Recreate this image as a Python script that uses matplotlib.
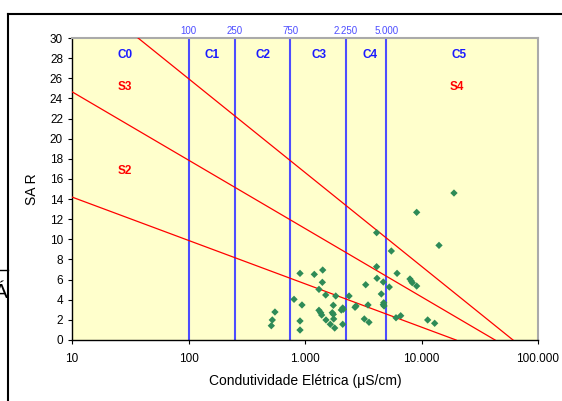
import numpy as np
import matplotlib.pyplot as plt
from matplotlib.lines import Line2D
from matplotlib.ticker import FixedLocator, NullLocator

plt.rcParams['font.family'] = ['Liberation Sans', 'DejaVu Sans']

# condutividade (uS/cm) e SAR das amostras
ce = [4120, 5510, 906, 1202, 1419, 1409, 1318, 1506, 1836, 2389,
      805, 942, 552, 524, 514, 906, 906, 1318, 1364, 1391,
      1514, 1649, 1798, 1750, 1715, 1750, 1762, 2049, 2108, 2134,
      2108, 2688, 2742, 3475, 3230, 3542, 3319, 4120, 4150, 4700,
      5290, 4520, 4740, 4700, 4770, 6170, 7960, 8170, 8330, 9090,
      6040, 6630, 19000, 9090, 14130, 11300, 12970]
sar = [10.66, 8.84, 6.62, 6.52, 6.95, 5.73, 5.03, 4.47, 4.37, 4.37,
       4.04, 3.48, 2.78, 1.99, 1.42, 1.89, 0.99, 2.95, 2.71, 2.48,
       1.99, 1.56, 1.19, 3.45, 2.71, 2.55, 2.09, 2.98, 3.18, 3.05,
       1.56, 3.25, 3.38, 3.48, 2.09, 1.76, 5.49, 7.28, 6.13, 5.76,
       5.26, 4.57, 3.70, 3.51, 3.38, 6.62, 6.06, 5.86, 5.69, 5.36,
       2.21, 2.41, 14.6, 12.68, 9.40, 1.99, 1.66]

# limites de condutividade (classes C)
c_limits = [100, 250, 750, 2250, 5000]
c_labels = ['100', '250', '750', '2.250', '5.000']
c_classes = ['C0', 'C1', 'C2', 'C3', 'C4', 'C5']
c_class_x = [28.5, 160, 440, 1330, 3600, 21000]

# retas das classes S: (x inicial, y inicial) -> (x final, 0)
s_lines = [((36, 30.1), (61000, 0)),
           ((10, 24.66), (42800, 0)),
           ((10, 14.2), (19800, 0))]
s_classes = ['S3', 'S4', 'S2']
s_class_pos = [(28.5, 25.1), (20000, 25.1), (28.5, 16.8)]

xticks = [10, 100, 1000, 10000, 100000]
xticklabels = ['10', '100', '1.000', '10.000', '100.000']

fig = plt.figure(figsize=(5.62, 4.01), dpi=100)
ax = fig.add_axes([72/562, 1-340/401, (538-72)/562, (340-38)/401])
ax.set_facecolor('#ffffcc')
ax.set_xscale('log')
ax.set_xlim(10, 100000)
ax.set_ylim(0, 30)

for xv, lab in zip(c_limits, c_labels):
    ax.axvline(xv, color='#4d4dff', lw=1.5, zorder=2)
    ax.text(xv, 30.15, lab, color='#4d4dff', fontsize=7, ha='center', va='bottom')

for (p0, p1) in s_lines:
    ax.plot([p0[0], p1[0]], [p0[1], p1[1]], color='red', lw=0.9, zorder=3)

for xv, lab in zip(c_class_x, c_classes):
    ax.text(xv, 28.3, lab, color='#1a1aff', fontsize=8.5, fontweight='bold', ha='center', va='center')
for (xv, yv), lab in zip(s_class_pos, s_classes):
    ax.text(xv, yv, lab, color='red', fontsize=8.5, fontweight='bold', ha='center', va='center')

ax.scatter(ce, sar, marker='D', s=14, color='#2e8b57', edgecolors='none', zorder=4)

ax.xaxis.set_major_locator(FixedLocator(xticks))
ax.xaxis.set_minor_locator(NullLocator())
ax.set_xticklabels(xticklabels)
ax.set_yticks(range(0, 31, 2))
ax.tick_params(labelsize=8.5, length=3, width=0.8, direction='out')
ax.tick_params(axis='x', pad=6)
for s in ['left', 'bottom']:
    ax.spines[s].set_color('black')
    ax.spines[s].set_linewidth(1.0)
for s in ['top', 'right']:
    ax.spines[s].set_color('#aaaaaa')
    ax.spines[s].set_linewidth(1.5)

ax.set_xlabel('Condutividade Elétrica (μS/cm)', fontsize=10, labelpad=7)
ax.set_ylabel('SA R', fontsize=10, labelpad=8)

# moldura da figura e resto do texto cortado à esquerda
fig.add_artist(Line2D([8/562, 1], [1-14/401, 1-14/401], color='black', lw=1.5))
fig.add_artist(Line2D([8/562, 8/562], [0, 1-14/401], color='black', lw=1.5))
fig.add_artist(Line2D([0, 8/562], [1-270/401, 1-270/401], color='black', lw=1.0))
fig.text(8/562, 1-298/401, 'Á', fontsize=15, ha='right', va='baseline')

fig.savefig('out.png', dpi=100)
